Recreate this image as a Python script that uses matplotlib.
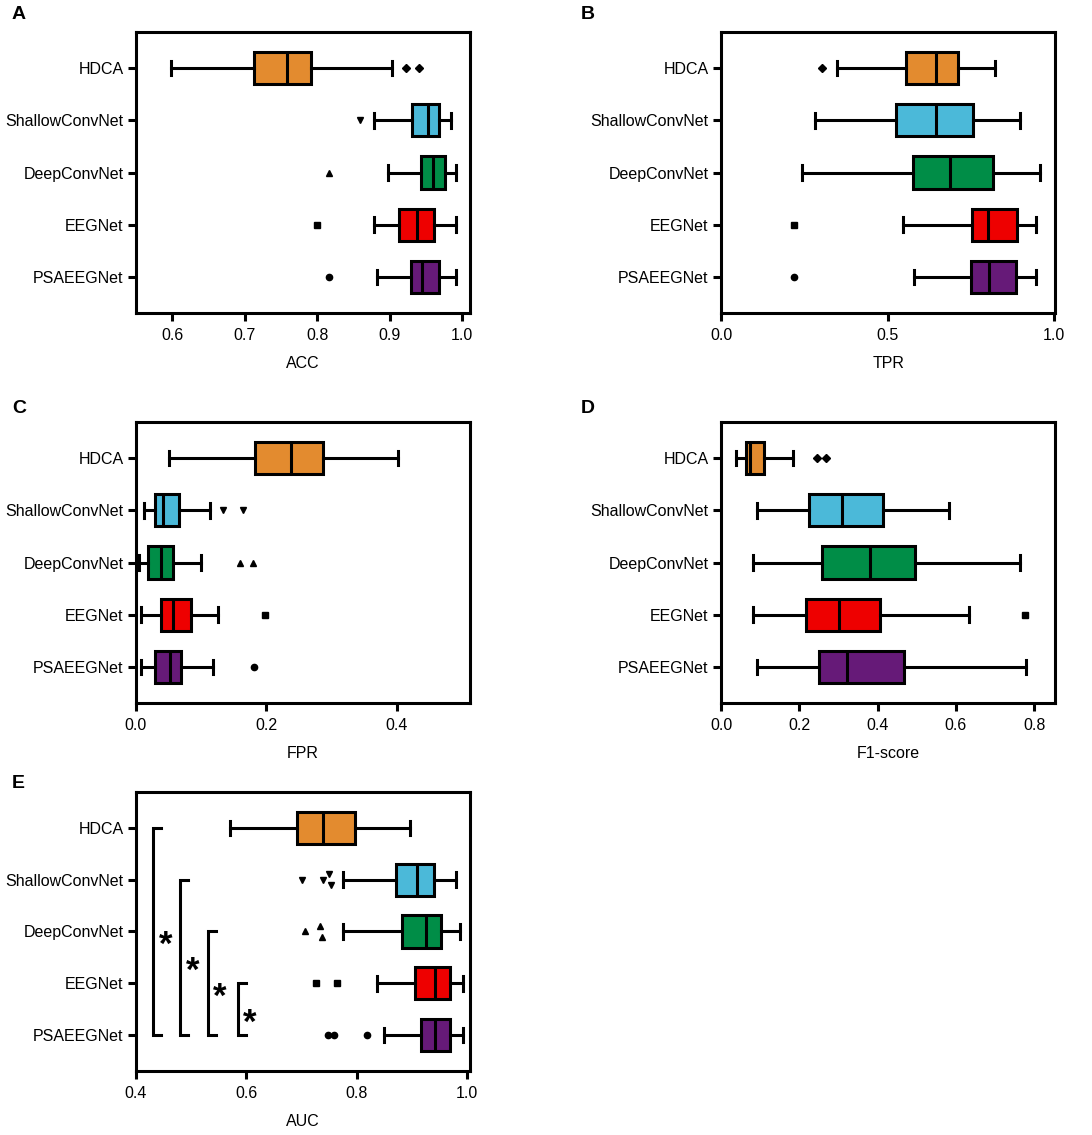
import numpy as np
import matplotlib.pyplot as plt
from matplotlib.ticker import FormatStrFormatter

plt.rcParams['font.family'] = ['Liberation Sans', 'DejaVu Sans']

models = ['HDCA', 'ShallowConvNet', 'DeepConvNet', 'EEGNet', 'PSAEEGNet']
colors = ['#E38B2F', '#4BB9D9', '#008D47', '#EE0000', '#661A78']
markers = ['D', 'v', '^', 's', 'o']

# box stats (whisker low, Q1, median, Q3, whisker high, outliers)
acc_lo = [0.599, 0.879, 0.898, 0.879, 0.883]
acc_q1 = [0.713, 0.931, 0.943, 0.913, 0.929]
acc_med = [0.759, 0.953, 0.960, 0.938, 0.945]
acc_q3 = [0.791, 0.968, 0.977, 0.961, 0.968]
acc_hi = [0.903, 0.985, 0.992, 0.992, 0.992]
acc_out = [[0.923, 0.941], [0.859], [0.817], [0.800], [0.816]]

tpr_lo = [0.348, 0.282, 0.244, 0.547, 0.578]
tpr_q1 = [0.554, 0.524, 0.576, 0.753, 0.750]
tpr_med = [0.644, 0.645, 0.688, 0.800, 0.805]
tpr_q3 = [0.712, 0.757, 0.815, 0.888, 0.886]
tpr_hi = [0.822, 0.898, 0.956, 0.946, 0.946]
tpr_out = [[0.302], [], [], [0.219], [0.219]]

fpr_lo = [0.051, 0.012, 0.005, 0.007, 0.008]
fpr_q1 = [0.183, 0.029, 0.018, 0.038, 0.029]
fpr_med = [0.238, 0.041, 0.038, 0.057, 0.052]
fpr_q3 = [0.286, 0.066, 0.057, 0.084, 0.069]
fpr_hi = [0.402, 0.114, 0.099, 0.126, 0.118]
fpr_out = [[], [0.134, 0.164], [0.160, 0.179], [0.197], [0.181]]

f1_lo = [0.038, 0.091, 0.082, 0.081, 0.091]
f1_q1 = [0.064, 0.224, 0.258, 0.218, 0.250]
f1_med = [0.073, 0.310, 0.381, 0.301, 0.322]
f1_q3 = [0.111, 0.415, 0.496, 0.406, 0.467]
f1_hi = [0.185, 0.583, 0.763, 0.634, 0.780]
f1_out = [[0.245, 0.269], [], [], [0.778], []]

auc_lo = [0.570, 0.774, 0.774, 0.836, 0.850]
auc_q1 = [0.692, 0.870, 0.881, 0.905, 0.916]
auc_med = [0.738, 0.908, 0.925, 0.942, 0.942]
auc_q3 = [0.797, 0.940, 0.952, 0.968, 0.968]
auc_hi = [0.896, 0.979, 0.987, 0.992, 0.992]
auc_out = [[], [0.700, 0.739, 0.749, 0.753], [0.706, 0.734, 0.737],
           [0.726, 0.764], [0.748, 0.759, 0.818]]

# significance brackets in panel E (pairs of model indices)
sig_pairs = [(0, 4), (1, 4), (2, 4), (3, 4)]
sig_x = [0.431, 0.480, 0.530, 0.584]
sig_labels = ['*', '*', '*', '*']

LW = 2.2


def draw_panel(ax, lo, q1, med, q3, hi, out, xlim, ticks, xlabel):
    stats = []
    for i in range(len(models)):
        stats.append(dict(whislo=lo[i], q1=q1[i], med=med[i], q3=q3[i],
                          whishi=hi[i], fliers=[]))
    line = dict(color='black', linewidth=LW)
    bp = ax.bxp(stats, positions=range(len(models)), widths=0.62, capwidths=0.28,
                orientation='horizontal', patch_artist=True, showfliers=False,
                boxprops=dict(edgecolor='black', linewidth=LW),
                medianprops=line, whiskerprops=line, capprops=line)
    for patch, c in zip(bp['boxes'], colors):
        patch.set_facecolor(c)

    # nudge overlapping outliers apart vertically
    tol = 0.008 * (xlim[1] - xlim[0])
    for i, pts in enumerate(out):
        pts = sorted(pts)
        ys = [i] * len(pts)
        for k in range(1, len(pts)):
            if pts[k] - pts[k - 1] < tol:
                ys[k - 1] = i - 0.1
                ys[k] = i + 0.1
        ms = 3.6 if markers[i] == 'D' else 4.5
        ax.plot(pts, ys, ls='none', marker=markers[i], color='black', ms=ms)

    ax.set_xlim(*xlim)
    ax.set_ylim(4.69, -0.69)
    ax.set_xticks(ticks)
    ax.xaxis.set_major_formatter(FormatStrFormatter('%.1f'))
    ax.set_yticks(range(len(models)))
    ax.set_yticklabels(models)
    ax.tick_params(axis='both', width=LW, length=6, direction='out', labelsize=11.5)
    ax.tick_params(axis='x', pad=5)
    ax.tick_params(axis='y', pad=3)
    ax.set_xlabel(xlabel, fontsize=11.5, labelpad=9)
    for sp in ax.spines.values():
        sp.set_linewidth(LW)
        sp.set_color('black')


fig = plt.figure(figsize=(10.92, 11.35), dpi=100)

axA = fig.add_axes([0.1245, 0.7242, 0.306, 0.2476])
axB = fig.add_axes([0.6603, 0.7242, 0.306, 0.2476])
axC = fig.add_axes([0.1245, 0.3806, 0.306, 0.2476])
axD = fig.add_axes([0.6603, 0.3806, 0.306, 0.2476])
axE = fig.add_axes([0.1245, 0.0564, 0.306, 0.2458])

draw_panel(axA, acc_lo, acc_q1, acc_med, acc_q3, acc_hi, acc_out,
           (0.55, 1.011), np.arange(0.6, 1.01, 0.1), 'ACC')
draw_panel(axB, tpr_lo, tpr_q1, tpr_med, tpr_q3, tpr_hi, tpr_out,
           (0.0, 1.003), [0.0, 0.5, 1.0], 'TPR')
draw_panel(axC, fpr_lo, fpr_q1, fpr_med, fpr_q3, fpr_hi, fpr_out,
           (0.0, 0.512), [0.0, 0.2, 0.4], 'FPR')
draw_panel(axD, f1_lo, f1_q1, f1_med, f1_q3, f1_hi, f1_out,
           (0.0, 0.854), [0.0, 0.2, 0.4, 0.6, 0.8], 'F1-score')
draw_panel(axE, auc_lo, auc_q1, auc_med, auc_q3, auc_hi, auc_out,
           (0.4, 1.005), [0.4, 0.6, 0.8, 1.0], 'AUC')

# significance brackets
arm = 0.015
for (a, b), x, lab in zip(sig_pairs, sig_x, sig_labels):
    axE.plot([x + arm, x, x, x + arm], [a, a, b, b], color='black', lw=LW,
             solid_joinstyle='miter', clip_on=False)
    axE.text(x + arm + 0.007, (a + b) / 2 + 0.27, lab, fontsize=25,
             fontweight='bold', ha='center', va='center')

for lab, x, y in [('A', 0.011, 0.987), ('B', 0.532, 0.987), ('C', 0.011, 0.640),
                  ('D', 0.532, 0.640), ('E', 0.011, 0.310)]:
    fig.text(x, y, lab, fontsize=14, fontweight='bold', va='center', ha='left')

fig.savefig('out.png', dpi=100)
